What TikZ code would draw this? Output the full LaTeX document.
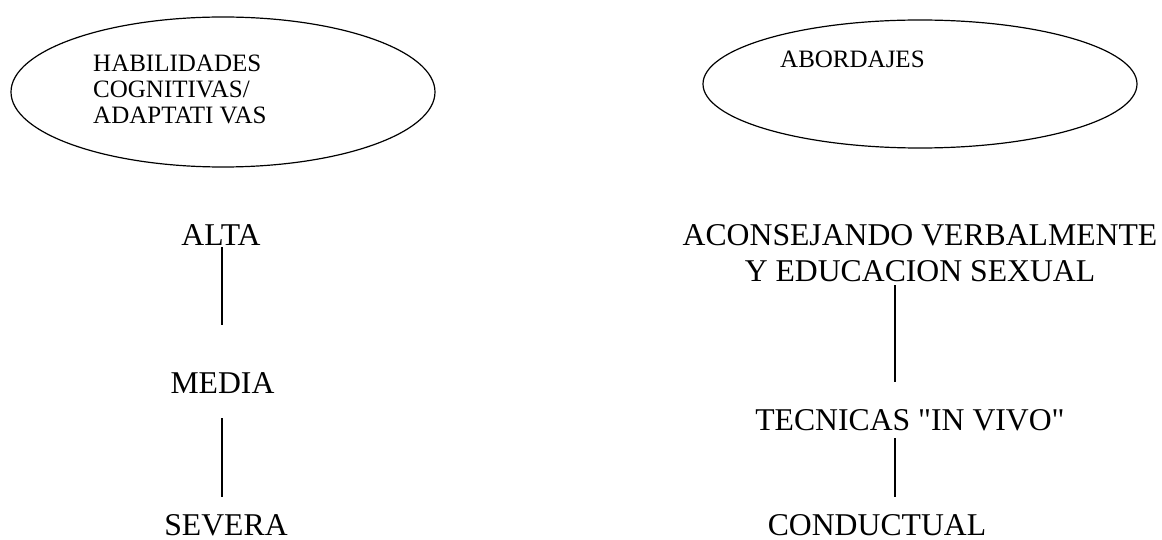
\documentclass[tikz,border=0pt]{standalone}
\usepackage{fontspec}
\setmainfont{Liberation Serif}[Ligatures=TeXOff]
\begin{document}
\begin{tikzpicture}[x=1pt,y=-1pt,
  big/.style={font=\fontsize{31.7}{36}\selectfont, inner sep=0pt, anchor=base},
  small/.style={font=\fontsize{25}{26}\selectfont, inner sep=0pt, align=left},
  oval/.style={draw, line width=1.2pt},
  link/.style={draw, line width=1.1pt}]
\useasboundingbox (0,0) rectangle (1162,540);
% ellipses
\draw[oval] (223,92) ellipse [x radius=212, y radius=75];
\draw[oval] (920,84) ellipse [x radius=217, y radius=64];
\node[small, anchor=north west] (hab) at (93,54.5) {HABILIDADES\\COGNITIVAS/\\ADAPTATI VAS};
\node[small, anchor=base west] (abo) at (780,68) {ABORDAJES};
% left column
\node[big] (alta) at (221,245) {ALTA};
\node[big] (media) at (222.5,393) {MEDIA};
\node[big] (severa) at (226,535) {SEVERA};
% right column
\node[big, anchor=north, align=center] (acons) at (920,224) {ACONSEJANDO VERBALMENTE\\Y EDUCACION SEXUAL};
\node[big] (tecn) at (910,430) {TECNICAS "IN VIVO"};
\node[big] (cond) at (877,535) {CONDUCTUAL};
% connectors
\coordinate (a1) at (222,247); \coordinate (a2) at (222,325);
\coordinate (m1) at (222,418); \coordinate (m2) at (222,497);
\coordinate (c1) at (895,285); \coordinate (c2) at (895,382);
\coordinate (t1) at (895,438); \coordinate (t2) at (895,497);
\draw[link] (a1) -- (a2);
\draw[link] (m1) -- (m2);
\draw[link] (c1) -- (c2);
\draw[link] (t1) -- (t2);
\end{tikzpicture}
\end{document}
